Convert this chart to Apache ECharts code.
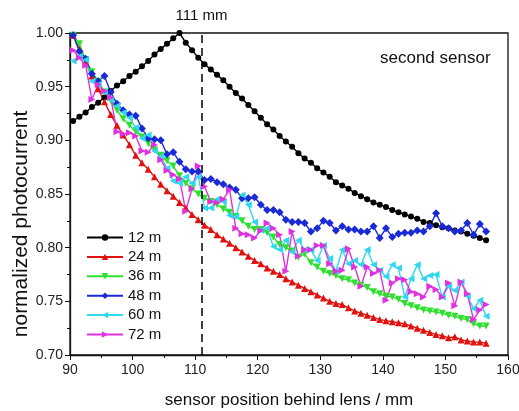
<!DOCTYPE html>
<html>
<head>
<meta charset="utf-8">
<title>normalized photocurrent</title>
<script src="https://cdn.jsdelivr.net/npm/echarts@6/dist/echarts.min.js"></script>
<style>
  html, body { margin: 0; padding: 0; background: #fff; }
  #chart { width: 519px; height: 411px; }
</style>
</head>
<body>
<div id="chart"></div>
<script>
// sensor position behind lens / mm
const positions = [
  90.5, 91.5, 92.5, 93.5, 94.5, 95.5, 96.5, 97.5, 98.5, 99.5,
  100.5, 101.5, 102.5, 103.5, 104.5, 105.5, 106.5, 107.5, 108.5, 109.5,
  110.5, 111.5, 112.5, 113.5, 114.5, 115.5, 116.5, 117.5, 118.5, 119.5,
  120.5, 121.5, 122.5, 123.5, 124.5, 125.5, 126.5, 127.5, 128.5, 129.5,
  130.5, 131.5, 132.5, 133.5, 134.5, 135.5, 136.5, 137.5, 138.5, 139.5,
  140.5, 141.5, 142.5, 143.5, 144.5, 145.5, 146.5, 147.5, 148.5, 149.5,
  150.5, 151.5, 152.5, 153.5, 154.5, 155.5, 156.5
]

const m12 = [
  0.918, 0.922, 0.926, 0.931, 0.935, 0.940, 0.946, 0.951, 0.955, 0.960, 0.964, 0.969, 0.974, 0.980, 0.985, 0.990, 0.995,
  1.000, 0.991, 0.984, 0.977, 0.971, 0.966, 0.961, 0.956, 0.950, 0.944, 0.939, 0.933, 0.927, 0.921, 0.915, 0.910, 0.904,
  0.899, 0.894, 0.888, 0.883, 0.879, 0.874, 0.870, 0.866, 0.861, 0.858, 0.855, 0.851, 0.848, 0.845, 0.842, 0.840, 0.838, 0.835,
  0.833, 0.831, 0.829, 0.827, 0.824, 0.823, 0.821, 0.819, 0.818, 0.816, 0.815, 0.813, 0.811, 0.809, 0.807
]
const m24 = [
  0.998, 0.985, 0.972, 0.960, 0.948, 0.936, 0.924, 0.914, 0.905, 0.896, 0.886, 0.879, 0.873, 0.866, 0.859, 0.853, 0.848,
  0.842, 0.837, 0.831, 0.826, 0.821, 0.817, 0.812, 0.808, 0.804, 0.800, 0.796, 0.792, 0.788, 0.785, 0.781, 0.778, 0.775,
  0.771, 0.768, 0.765, 0.762, 0.759, 0.756, 0.753, 0.750, 0.748, 0.747, 0.744, 0.741, 0.739, 0.737, 0.735, 0.733, 0.732, 0.731,
  0.730, 0.729, 0.727, 0.725, 0.723, 0.721, 0.719, 0.718, 0.716, 0.717, 0.714, 0.713, 0.712, 0.712, 0.711
]
const m36 = [
  0.998, 0.990, 0.975, 0.964, 0.955, 0.945, 0.937, 0.928, 0.920, 0.914, 0.908, 0.903, 0.897, 0.891, 0.886, 0.881, 0.876,
  0.867, 0.860, 0.855, 0.850, 0.846, 0.843, 0.840, 0.836, 0.833, 0.829, 0.825, 0.820, 0.817, 0.817, 0.814, 0.810, 0.803,
  0.800, 0.797, 0.791, 0.794, 0.786, 0.782, 0.778, 0.776, 0.774, 0.771, 0.770, 0.767, 0.765, 0.763, 0.759, 0.757, 0.755, 0.754,
  0.752, 0.748, 0.746, 0.744, 0.742, 0.741, 0.740, 0.739, 0.737, 0.736, 0.734, 0.733, 0.729, 0.727, 0.727
]
const m48 = [
  0.998, 0.983, 0.976, 0.962, 0.955, 0.960, 0.945, 0.934, 0.928, 0.924, 0.923, 0.911, 0.902, 0.901, 0.900, 0.887, 0.889,
  0.880, 0.873, 0.871, 0.871, 0.863, 0.864, 0.861, 0.859, 0.856, 0.854, 0.846, 0.846, 0.847, 0.840, 0.835, 0.835, 0.833,
  0.826, 0.824, 0.824, 0.823, 0.815, 0.818, 0.825, 0.823, 0.816, 0.820, 0.817, 0.817, 0.815, 0.815, 0.820, 0.809, 0.818, 0.810,
  0.813, 0.814, 0.814, 0.816, 0.815, 0.820, 0.832, 0.820, 0.818, 0.815, 0.816, 0.823, 0.812, 0.822, 0.815
]
const m60 = [
  0.974, 0.978, 0.975, 0.955, 0.952, 0.945, 0.938, 0.932, 0.926, 0.921, 0.912, 0.902, 0.905, 0.890, 0.885, 0.874, 0.862,
  0.860, 0.866, 0.860,
  0.866, 0.837, 0.837, 0.845, 0.843, 0.830, 0.829, 0.849, 0.840, 0.824, 0.816, 0.818, 0.801, 0.798, 0.807, 0.796,
  0.807, 0.798, 0.798, 0.788, 0.802, 0.790, 0.778, 0.798, 0.785, 0.788, 0.784, 0.798, 0.784, 0.779, 0.773, 0.784,
  0.781, 0.754, 0.771, 0.784, 0.771, 0.774, 0.775, 0.754, 0.764, 0.760, 0.768, 0.755, 0.743, 0.751, 0.736
]
const m72 = [
  0.984, 0.977, 0.970, 0.938, 0.952, 0.946, 0.940, 0.908, 0.906, 0.907, 0.904, 0.890, 0.889, 0.896, 0.882, 0.872, 0.868,
  0.864, 0.834, 0.855,
  0.876, 0.857, 0.843, 0.842, 0.845, 0.854, 0.818, 0.813, 0.812, 0.809, 0.816, 0.823, 0.818, 0.812, 0.778, 0.815,
  0.792, 0.798, 0.798, 0.802, 0.802, 0.785, 0.778, 0.779, 0.799, 0.782, 0.764, 0.782, 0.776, 0.779, 0.751, 0.767,
  0.771, 0.770, 0.759, 0.757, 0.754, 0.764, 0.761, 0.754, 0.767, 0.746, 0.768, 0.757, 0.733, 0.742, 0.747
]

const xTicks = [90, 160, 10]
const yTicks = [0.70, 1.00, 0.05]
const focusPos = 111

const font = 'Liberation Sans, Arial, sans-serif'

function pairs (vals) {
  return positions.map((x, i) => [x, vals[i]])
}

const seriesDefs = [
  { name: '12 m', vals: m12, color: '#000000', symbol: 'circle', size: 6, rotate: 0 },
  { name: '24 m', vals: m24, color: '#e0110f', symbol: 'triangle', size: 7, rotate: 0 },
  { name: '36 m', vals: m36, color: '#2ee02e', symbol: 'triangle', size: 7, rotate: 180 },
  { name: '48 m', vals: m48, color: '#1a2ad6', symbol: 'diamond', size: 8, rotate: 0 },
  { name: '60 m', vals: m60, color: '#2fd8ec', symbol: 'triangle', size: 7, rotate: 90 },
  { name: '72 m', vals: m72, color: '#e030e0', symbol: 'triangle', size: 7, rotate: -90 }
]

const chart = echarts.init(document.getElementById('chart'))

const series = seriesDefs.map(d => ({
  name: d.name,
  type: 'line',
  data: pairs(d.vals),
  symbol: d.symbol,
  symbolSize: d.size,
  symbolRotate: d.rotate,
  showSymbol: true,
  color: d.color,
  lineStyle: { width: 1.4, color: d.color },
  itemStyle: { color: d.color },
  z: 3
}))

// dashed marker at 111 mm
series[0].markLine = {
  silent: true,
  symbol: ['none', 'none'],
  animation: false,
  lineStyle: { type: [8, 5], color: '#000', width: 1.5 },
  label: {
    show: true,
    position: 'end',
    formatter: '111 mm',
    color: '#111',
    fontSize: 15,
    fontFamily: font,
    distance: 10
  },
  data: [{ xAxis: focusPos }]
}

chart.setOption({
  animation: false,
  backgroundColor: '#fff',
  textStyle: { fontFamily: font },
  grid: {
    left: 70,
    right: 11,
    top: 33,
    bottom: 56,
    outerBoundsMode: 'none',
    show: true,
    borderColor: '#111',
    borderWidth: 1.3
  },
  legend: {
    orient: 'vertical',
    left: 86,
    top: 230,
    padding: 0,
    itemWidth: 36,
    itemHeight: 8,
    itemGap: 4.4,
    backgroundColor: '#fff',
    textStyle: { fontSize: 15, lineHeight: 15, color: '#111', fontFamily: font },
    data: seriesDefs.map(d => d.name)
  },
  xAxis: {
    type: 'value',
    min: xTicks[0],
    max: xTicks[1],
    interval: xTicks[2],
    axisLine: { lineStyle: { color: '#111', width: 1.3 } },
    axisTick: { inside: false, length: 5, lineStyle: { color: '#111' } },
    minorTick: { show: true, splitNumber: 2, length: 3, lineStyle: { color: '#111' } },
    splitLine: { show: false },
    axisLabel: { fontSize: 14, color: '#222', margin: 8, fontFamily: font },
    name: 'sensor position behind lens / mm',
    nameLocation: 'middle',
    nameGap: 37,
    nameTextStyle: { fontSize: 17, color: '#111', fontFamily: font }
  },
  yAxis: {
    type: 'value',
    min: yTicks[0],
    max: yTicks[1],
    interval: yTicks[2],
    axisLine: { show: true, lineStyle: { color: '#111', width: 1.3 } },
    axisTick: { show: true, inside: false, length: 5, lineStyle: { color: '#111' } },
    minorTick: { show: true, splitNumber: 2, length: 3, lineStyle: { color: '#111' } },
    splitLine: { show: false },
    axisLabel: {
      fontSize: 14,
      color: '#222',
      margin: 7,
      fontFamily: font,
      formatter: v => v.toFixed(2)
    }
  },
  graphic: [
    {
      type: 'text',
      x: 21,
      y: 224,
      rotation: Math.PI / 2,
      style: {
        text: 'normalized photocurrent',
        fontSize: 21,
        fontFamily: font,
        fill: '#111',
        align: 'center',
        verticalAlign: 'middle'
      }
    },
    {
      type: 'text',
      x: 380,
      y: 58,
      style: {
        text: 'second sensor',
        fontSize: 17,
        fontFamily: font,
        fill: '#111',
        align: 'left',
        verticalAlign: 'middle'
      }
    }
  ],
  series: series
})
</script>
</body>
</html>
